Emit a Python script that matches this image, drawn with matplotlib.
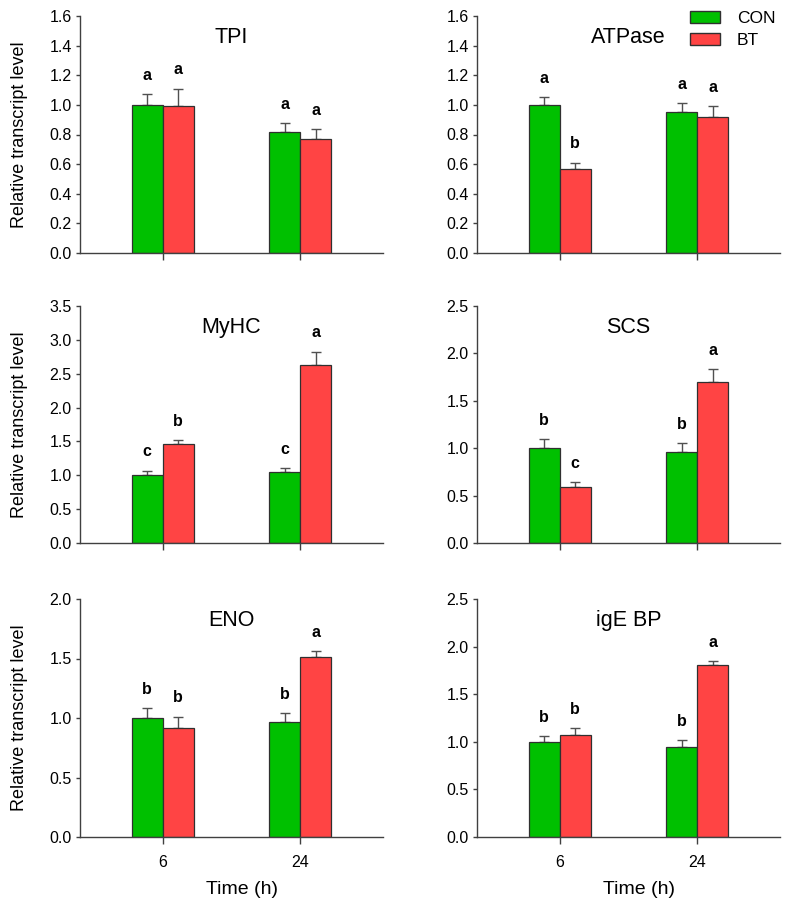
import numpy as np
import matplotlib
matplotlib.use('Agg')
import matplotlib.pyplot as plt
from matplotlib.patches import Patch

plt.rcParams['font.family'] = ['Liberation Sans', 'DejaVu Sans']

# Data
genes = ['TPI', 'ATPase', 'MyHC', 'SCS', 'ENO', 'igE BP']
times = ['6', '24']

con_mean = [[1.00, 0.82], [1.00, 0.95], [1.00, 1.05], [1.00, 0.96], [1.00, 0.97], [1.00, 0.95]]
con_err = [[0.075, 0.056], [0.054, 0.063], [0.069, 0.054], [0.092, 0.094], [0.082, 0.070], [0.059, 0.070]]
bt_mean = [[0.99, 0.77], [0.57, 0.92], [1.46, 2.63], [0.59, 1.70], [0.92, 1.51], [1.07, 1.81]]
bt_err = [[0.120, 0.067], [0.040, 0.074], [0.059, 0.197], [0.056, 0.137], [0.092, 0.053], [0.077, 0.038]]

con_letters = [['a', 'a'], ['a', 'a'], ['c', 'c'], ['b', 'b'], ['b', 'b'], ['b', 'b']]
bt_letters = [['a', 'a'], ['b', 'a'], ['b', 'a'], ['c', 'a'], ['b', 'a'], ['b', 'a']]

y_max = [1.6, 1.6, 3.5, 2.5, 2.0, 2.5]
y_step = [0.2, 0.2, 0.5, 0.5, 0.5, 0.5]

green = '#00C000'
red = '#FF4444'
edge = '#303030'
errc = '#505050'

W, H = 787, 907
fig = plt.figure(figsize=(W / 100, H / 100), dpi=100)

# axes boxes in pixels: left, right, top, bottom
cols = [(80, 383), (477, 780)]
rows = [(16, 253), (306, 543), (599, 837)]

x = np.arange(len(times))
w = 0.225

for i, gene in enumerate(genes):
    r, c = divmod(i, 2)
    l, rr = cols[c]
    t, b = rows[r]
    ax = fig.add_axes([l / W, 1 - b / H, (rr - l) / W, (b - t) / H])

    for xs, means, errs, letters, col in [
        (x - w / 2, con_mean[i], con_err[i], con_letters[i], green),
        (x + w / 2, bt_mean[i], bt_err[i], bt_letters[i], red),
    ]:
        ax.bar(xs, means, width=w, color=col, edgecolor=edge, linewidth=0.9, zorder=2)
        ax.errorbar(xs, means, yerr=[np.zeros(len(means)), errs], fmt='none',
                    ecolor=errc, elinewidth=1, capsize=3.5, capthick=1, zorder=1)
        for xi, m, e, let in zip(xs, means, errs, letters):
            ax.annotate(let, (xi, m + e), xytext=(0, 13.5), textcoords='offset points',
                        ha='center', va='center', fontsize=11.5, fontweight='bold')

    ax.set_xlim(-0.6, 1.6)
    ax.set_ylim(0, y_max[i])
    ax.set_yticks(np.arange(0, y_max[i] + 1e-6, y_step[i]))
    ax.yaxis.set_major_formatter(matplotlib.ticker.FormatStrFormatter('%.1f'))
    ax.set_xticks(x)
    ax.spines['top'].set_visible(False)
    ax.spines['right'].set_visible(False)
    for s in ['left', 'bottom']:
        ax.spines[s].set_color('#404040')
        ax.spines[s].set_linewidth(1)
    ax.tick_params(axis='y', length=3, width=1, color='#404040', labelsize=11.5, pad=3)
    ax.tick_params(axis='x', length=5, width=1, color='#404040', labelsize=11.5, pad=8)

    ax.text(0.5, 0.91, gene, transform=ax.transAxes, ha='center', va='center', fontsize=15.5)

    if r == 2:
        ax.set_xticklabels(times)
        ax.set_xlabel('Time (h)', fontsize=14)
        ax.xaxis.set_label_coords(0.535, -0.186)
    else:
        ax.set_xticklabels([])

    if c == 0:
        ax.set_ylabel('Relative transcript level', fontsize=13)
        ax.yaxis.set_label_coords(-0.172, 0.5)

    if i == 1:
        handles = [Patch(facecolor=green, edgecolor=edge), Patch(facecolor=red, edgecolor=edge)]
        ax.legend(handles, ['CON', 'BT'], loc='upper right', bbox_to_anchor=(1.008, 1.05),
                  frameon=False, fontsize=12.5, handlelength=1.7, handleheight=0.65,
                  handletextpad=1.0, labelspacing=0.4, borderaxespad=0)

fig.savefig('out.png', dpi=100)
